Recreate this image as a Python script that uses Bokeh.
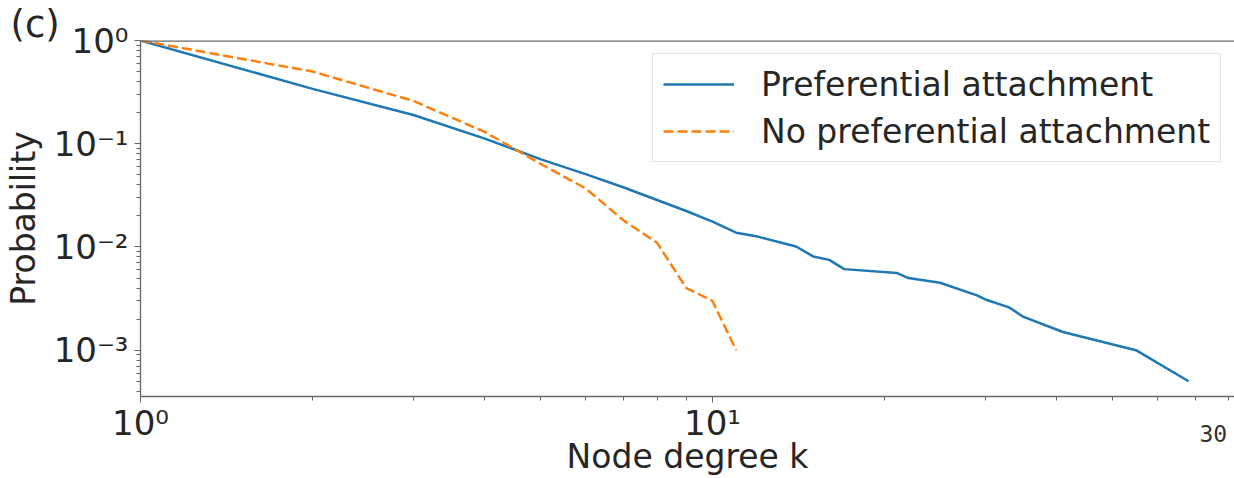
from bokeh.plotting import figure
from bokeh.models import (Range1d, FixedTicker, LogAxis, Span, Title, Legend, LegendItem)
from bokeh.embed import file_html
from bokeh.resources import INLINE

# Complementary degree distributions, P(K >= k)
k_pa = [1, 2, 3, 4, 5, 6, 7, 8, 9, 10, 11, 12, 14, 15, 16, 17, 21, 22, 25, 29, 30,
        33, 35, 41, 55, 68]
p_pa = [1.0, 0.34, 0.19, 0.112, 0.071, 0.0507, 0.0377, 0.0285, 0.0223, 0.0176,
        0.01375, 0.0126, 0.0101, 0.0081, 0.0075, 0.0061, 0.0056, 0.0050, 0.0045,
        0.0034, 0.0031, 0.0026, 0.0021, 0.0015, 0.0010, 0.0005]

k_npa = [1, 2, 3, 4, 5, 6, 7, 8, 9, 10, 11]
p_npa = [1.0, 0.5, 0.26, 0.13, 0.064, 0.037, 0.018, 0.011, 0.004, 0.003, 0.001]

x_ticks = [1, 10]
x_tick_labels = ["10⁰", "10¹"]
x_minor = [2, 3, 4, 5, 6, 7, 8, 9, 20, 30, 40, 50, 60, 70, 80]
y_ticks = [1, 0.1, 0.01, 0.001]
y_tick_labels = ["10⁰", "10⁻¹", "10⁻²", "10⁻³"]
y_minor = [m * d for d in (0.1, 0.01, 0.001, 0.0001) for m in range(2, 10)]

# page number printed at the lower right corner of the panel
page_mark = "30"
page_mark_at = 75.1

FONT = "DejaVu Sans"
TEXT = "#262626"
SPINE = "#666666"

p = figure(width=1234, height=478, x_axis_type="log", y_axis_type="log",
           x_range=Range1d(1, 81.8), y_range=Range1d(3.56e-4, 1),
           output_backend="svg", toolbar_location=None,
           min_border_left=140, min_border_right=0, min_border_top=40,
           min_border_bottom=81)
p.grid.visible = False
p.outline_line_color = None
p.background_fill_color = "white"
p.border_fill_color = "white"

r1 = p.line(k_pa, p_pa, line_color="#1f77b4", line_width=2.5)
r2 = p.line(k_npa, p_npa, line_color="#ff7f0e", line_width=2.5, line_dash="10 4")

for ax, ticks, labels, minor in ((p.xaxis[0], x_ticks, x_tick_labels, x_minor),
                                 (p.yaxis[0], y_ticks, y_tick_labels, y_minor)):
    ax.ticker = FixedTicker(ticks=ticks, minor_ticks=minor)
    ax.major_label_overrides = {t: l for t, l in zip(ticks, labels)}
    ax.axis_line_color = SPINE
    ax.axis_line_width = 1.3
    ax.major_tick_line_color = SPINE
    ax.minor_tick_line_color = SPINE
    ax.major_tick_in = 0
    ax.minor_tick_in = 0
    ax.major_tick_out = 6
    ax.minor_tick_out = 4
    ax.major_label_text_font = FONT
    ax.major_label_text_font_size = "34px"
    ax.major_label_text_color = TEXT

p.xaxis.major_label_standoff = 0
p.yaxis.major_label_standoff = 6
p.yaxis.axis_label = "Probability"
p.yaxis.axis_label_text_font = FONT
p.yaxis.axis_label_text_font_size = "33px"
p.yaxis.axis_label_text_font_style = "normal"
p.yaxis.axis_label_text_color = TEXT
p.yaxis.axis_label_standoff = 8

# second row under the x axis: page number and the axis title
below2 = LogAxis(ticker=FixedTicker(ticks=[page_mark_at], minor_ticks=[]),
                 major_label_overrides={page_mark_at: page_mark},
                 axis_line_color=None, major_tick_line_color=None,
                 minor_tick_line_color=None, major_tick_out=0, minor_tick_out=0,
                 major_tick_in=0, minor_tick_in=0,
                 major_label_standoff=-21,
                 major_label_text_font="DejaVu Sans Mono",
                 major_label_text_font_size="23px", major_label_text_color="#333333",
                 axis_label="Node degree k", axis_label_standoff=-8,
                 axis_label_text_font=FONT, axis_label_text_font_size="33px",
                 axis_label_text_font_style="normal", axis_label_text_color=TEXT)
p.add_layout(below2, "below")

# top spine (half of the stroke falls outside the frame clip)
p.add_layout(Span(location=1, dimension="width", line_color=SPINE, line_width=2.6))

# panel letter
p.add_layout(Title(text="(c)", align="left", offset=-130, standoff=-10,
                   text_font=FONT, text_font_size="37px", text_font_style="normal",
                   text_color=TEXT), "above")

legend = Legend(items=[LegendItem(label="Preferential attachment", renderers=[r1]),
                       LegendItem(label="No preferential attachment", renderers=[r2])],
                location=(512, 234))
legend.label_text_font = FONT
legend.label_text_font_size = "33px"
legend.label_text_color = TEXT
legend.glyph_width = 71
legend.glyph_height = 40
legend.label_height = 40
legend.label_standoff = 27
legend.spacing = 7
legend.padding = 10
legend.margin = 0
legend.border_line_color = "#cccccc"
legend.border_line_width = 1.3
legend.background_fill_alpha = 0.8
p.add_layout(legend)

open("out.html", "w").write(file_html(p, INLINE))
